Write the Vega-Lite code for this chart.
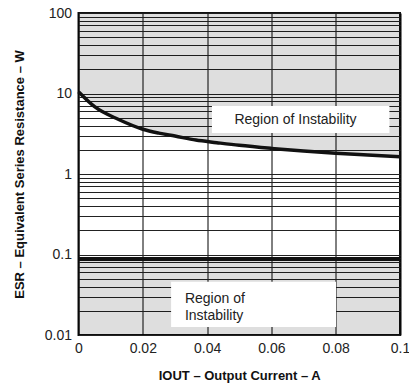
{
  "$schema": "https://vega.github.io/schema/vega-lite/v6.json",
  "width": 321.5,
  "height": 322,
  "autosize": {"type": "none"},
  "padding": {"left": 78.5, "top": 13, "right": 9, "bottom": 49},
  "config": {
    "view": {"stroke": "#111", "strokeWidth": 2},
    "font": "Liberation Sans"
  },
  "datasets": {
    "curve": [
      {"i": 0, "esr": 10.5},
      {"i": 0.005, "esr": 6.85},
      {"i": 0.0125, "esr": 4.75},
      {"i": 0.02, "esr": 3.6},
      {"i": 0.025, "esr": 3.22},
      {"i": 0.03, "esr": 2.96},
      {"i": 0.0365, "esr": 2.64},
      {"i": 0.043, "esr": 2.45},
      {"i": 0.05, "esr": 2.27},
      {"i": 0.06, "esr": 2.08},
      {"i": 0.07, "esr": 1.93},
      {"i": 0.08, "esr": 1.81},
      {"i": 0.09, "esr": 1.72},
      {"i": 0.1, "esr": 1.64}
    ]
  },
  "layer": [
    {
      "data": {"name": "curve"},
      "mark": {"type": "area", "color": "#000", "opacity": 0.13},
      "encoding": {
        "x": {
          "field": "i", "type": "quantitative",
          "scale": {"domain": [0, 0.1], "nice": false, "zero": false},
          "axis": {
            "title": "IOUT – Output Current – A",
            "titleFont": "Liberation Sans", "titleFontSize": 13, "titleFontWeight": "bold", "titleColor": "#111",
            "titlePadding": 14,
            "values": [0, 0.02, 0.04, 0.06, 0.08, 0.1],
            "format": "~g",
            "labelFontSize": 14, "labelColor": "#222", "labelPadding": 6,
            "labelFlush": false, "labelOverlap": false, "labelBound": false,
            "ticks": false, "domain": false,
            "grid": true, "gridColor": "#000", "gridWidth": 1, "gridOpacity": 1
          }
        },
        "y": {
          "field": "esr", "type": "quantitative",
          "scale": {"type": "log", "domain": [0.01, 100], "nice": false},
          "axis": {
            "title": "ESR – Equivalent Series Resistance – W",
            "titleFont": "Liberation Sans", "titleFontSize": 13, "titleFontWeight": "bold", "titleColor": "#111",
            "titlePadding": 18,
            "values": [0.01, 0.02, 0.03, 0.04, 0.05, 0.06, 0.07, 0.08, 0.09, 0.1, 0.2, 0.3, 0.4, 0.5, 0.6, 0.7, 0.8, 0.9, 1, 2, 3, 4, 5, 6, 7, 8, 9, 10, 20, 30, 40, 50, 60, 70, 80, 90, 100],
            "format": "~g",
            "labelExpr": "indexof([0.01, 0.1, 1, 10, 100], datum.value) >= 0 ? datum.label : ''",
            "labelFontSize": 14, "labelColor": "#222", "labelPadding": 7,
            "labelOverlap": false, "labelBound": false, "labelFlush": false,
            "ticks": false, "domain": false,
            "grid": true, "gridColor": "#222", "gridWidth": 1, "gridOpacity": 1
          }
        },
        "y2": {"datum": 100}
      }
    },
    {
      "data": {"values": [{}]},
      "mark": {"type": "rect", "color": "#000", "opacity": 0.13},
      "encoding": {
        "x": {"datum": 0},
        "x2": {"datum": 0.1},
        "y": {"datum": 0.01},
        "y2": {"datum": 0.088}
      }
    },
    {
      "data": {"name": "curve"},
      "mark": {"type": "line", "color": "#111", "strokeWidth": 3.5, "strokeJoin": "round", "interpolate": "monotone"},
      "encoding": {
        "x": {"field": "i", "type": "quantitative"},
        "y": {"field": "esr", "type": "quantitative"}
      }
    },
    {
      "data": {"values": [{}]},
      "mark": {"type": "rule", "color": "#111", "strokeWidth": 4},
      "encoding": {
        "x": {"datum": 0},
        "x2": {"datum": 0.1},
        "y": {"datum": 0.088}
      }
    },
    {
      "data": {"values": [{}]},
      "mark": {"type": "rect", "color": "#fff", "opacity": 1},
      "encoding": {
        "x": {"datum": 0.0415},
        "x2": {"datum": 0.0967},
        "y": {"datum": 3.23},
        "y2": {"datum": 7.0}
      }
    },
    {
      "data": {"values": [{}]},
      "mark": {"type": "rect", "color": "#fff", "opacity": 1},
      "encoding": {
        "x": {"datum": 0.0288},
        "x2": {"datum": 0.0801},
        "y": {"datum": 0.0126},
        "y2": {"datum": 0.0459}
      }
    },
    {
      "data": {"values": [{"label": "Region of Instability"}]},
      "mark": {"type": "text", "font": "Liberation Sans", "fontSize": 14, "color": "#222", "align": "center", "baseline": "middle"},
      "encoding": {
        "x": {"datum": 0.0675},
        "y": {"datum": 4.75},
        "text": {"field": "label"}
      }
    },
    {
      "data": {"values": [{"label": ["Region of", "Instability"]}]},
      "mark": {"type": "text", "font": "Liberation Sans", "fontSize": 14, "color": "#222", "align": "left", "baseline": "middle", "lineHeight": 17},
      "encoding": {
        "x": {"datum": 0.0331},
        "y": {"datum": 0.0282},
        "text": {"field": "label"}
      }
    }
  ]
}
